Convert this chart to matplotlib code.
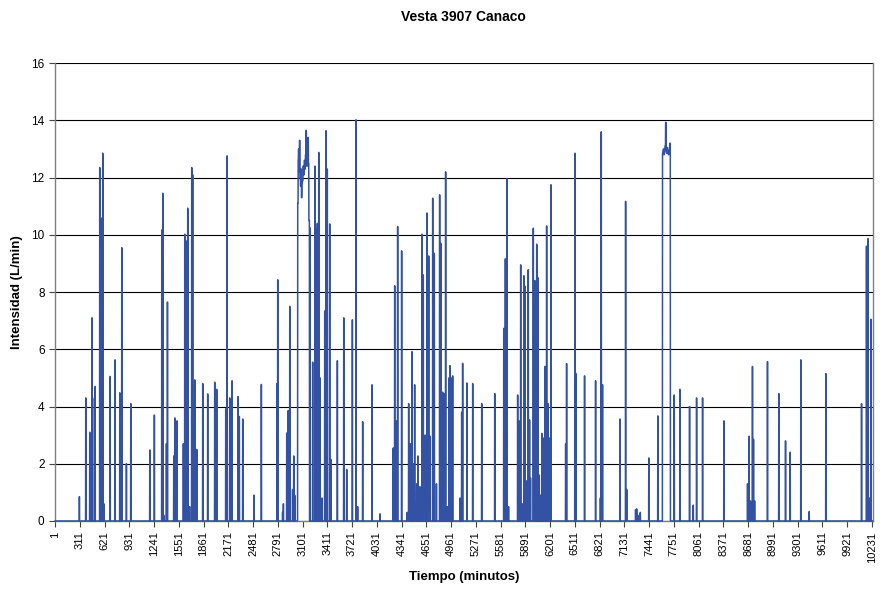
import numpy as np
import matplotlib
matplotlib.use('Agg')
import matplotlib.pyplot as plt

plt.rcParams['font.family'] = ['Liberation Sans', 'DejaVu Sans']

# minutes in the record
n_minutes = 10240

# isolated flow events: minute and intensity (L/min)
spike_minute = [305, 385, 435, 464, 470, 502, 560, 572, 598, 612, 690, 752, 811, 836, 894, 949,
                1187, 1244, 1337, 1350, 1362, 1395, 1408, 1487, 1500, 1520, 1528, 1607, 1625, 1637,
                1662, 1685, 1712, 1724, 1750, 1775, 1850, 1912, 2000, 2025, 2138, 2155, 2188, 2217,
                2292, 2308, 2351, 2493, 2584, 2780, 2789, 2850, 2860, 2902, 2920, 2940, 2975, 2990,
                3002, 3194, 3227, 3256, 3270, 3285, 3303, 3320, 3345, 3378, 3394, 3410, 3440, 3455,
                3536, 3616, 3653, 3724, 3770, 3790, 3853, 3970, 4070, 4236, 4254, 4270, 4291, 4341,
                4410, 4429, 4450, 4471, 4488, 4504, 4530, 4545, 4570, 4596, 4612, 4635, 4659, 4680,
                4697, 4730, 4750, 4777, 4817, 4833, 4855, 4875, 4892, 4912, 4934, 4946, 4960, 4980,
                5072, 5093, 5105, 5159, 5231, 5344, 5507, 5620, 5640, 5660, 5680, 5794, 5810, 5832,
                5850, 5872, 5887, 5905, 5927, 5943, 5955, 5990, 6010, 6033, 6050, 6065, 6080, 6098,
                6113, 6137, 6157, 6175, 6190, 6211, 6395, 6407, 6511, 6525, 6632, 6770, 6830, 6841,
                6857, 7075, 7146, 7160, 7271, 7285, 7300, 7330, 7437, 7550, 7755, 7826, 7947, 7993,
                8035, 8110, 8377, 8673, 8693, 8710, 8735, 8748, 8762, 8923, 9065, 9149, 9207, 9341,
                9445, 9654, 10101, 10163, 10183, 10200, 10218]
spike_value = [0.85, 4.3, 3.1, 7.1, 4.3, 4.7, 12.35, 10.6, 12.85, 0.6, 5.05, 5.63, 4.48, 9.55, 2.0, 4.1,
               2.48, 3.7, 10.17, 11.45, 0.2, 2.7, 7.65, 2.27, 3.6, 3.4, 3.5, 2.7, 10.02, 9.8,
               10.93, 0.5, 12.35, 12.1, 4.93, 2.5, 4.8, 4.44, 4.85, 4.6, 3.92, 12.76, 4.3, 4.9,
               4.35, 3.65, 3.56, 0.9, 4.77, 4.8, 8.43, 0.3, 0.6, 3.07, 3.86, 7.5, 1.1, 2.27,
               0.9, 10.24, 5.55, 12.4, 10.2, 10.4, 12.88, 5.0, 0.8, 7.34, 13.64, 12.3, 10.38, 2.15,
               5.6, 7.1, 1.8, 7.03, 14.02, 0.5, 3.47, 4.76, 0.25, 2.55, 8.22, 3.5, 10.29, 9.44,
               0.3, 4.1, 2.7, 5.92, 2.0, 4.76, 1.3, 2.27, 1.2, 10.02, 8.6, 3.0, 10.76, 9.26,
               2.96, 11.28, 9.35, 1.3, 11.4, 9.7, 4.5, 4.45, 12.2, 0.5, 5.0, 5.43, 5.0, 5.07,
               0.8, 3.8, 5.51, 4.82, 4.8, 4.1, 4.45, 6.73, 9.16, 11.96, 0.5, 4.4, 3.5, 8.95,
               0.6, 8.57, 8.2, 1.4, 8.78, 3.53, 1.5, 10.23, 8.4, 9.67, 8.5, 1.6, 0.9, 3.06,
               2.9, 5.4, 10.31, 4.1, 2.9, 11.75, 2.7, 5.5, 12.85, 5.15, 5.07, 4.9, 0.8, 13.6,
               4.76, 3.56, 11.17, 1.1, 0.4, 0.42, 0.2, 0.3, 2.2, 3.67, 4.4, 4.6, 4.0, 0.55,
               4.3, 4.3, 3.5, 1.3, 2.96, 0.7, 5.4, 2.85, 0.7, 5.57, 4.45, 2.8, 2.4, 5.63,
               0.33, 5.15, 4.1, 9.6, 9.87, 0.8, 7.05]

# sustained flow periods: readings held until the next one
plateau1_minute = [3040, 3046, 3050, 3056, 3062, 3068, 3075, 3081, 3087, 3093, 3100, 3107,
                   3115, 3122, 3130, 3137, 3145, 3150, 3155, 3162, 3168, 3174, 3180]
plateau1_value = [11.1, 12.6, 13.0, 12.2, 13.3, 12.0, 11.7, 12.3, 11.3, 11.8, 11.9, 12.4,
                  12.1, 12.6, 12.3, 12.8, 13.65, 12.6, 12.4, 13.0, 13.4, 12.5, 10.5]
plateau2_minute = [7609, 7615, 7620, 7627, 7633, 7640, 7648, 7654, 7660, 7667, 7675, 7683, 7690, 7700]
plateau2_value = [12.86, 12.95, 13.0, 12.8, 12.9, 13.1, 13.93, 13.0, 12.85, 13.05, 12.95, 12.8, 12.85, 13.2]

minutes = np.arange(1, n_minutes + 1)
flow = np.zeros(n_minutes)
for m, v in zip(spike_minute, spike_value):
    flow[m - 1:m + 2] = v
for pm, pv in [(plateau1_minute, plateau1_value), (plateau2_minute, plateau2_value)]:
    for i in range(len(pm)):
        end = pm[i + 1] if i + 1 < len(pm) else pm[i] + 8
        flow[pm[i] - 1:end - 1] = pv[i]

tick_minutes = list(range(1, n_minutes, 310))

fig = plt.figure(figsize=(8.8, 5.9), dpi=100)
ax = fig.add_axes([0.0625, 0.117, 0.929, 0.776])

ax.plot(minutes, flow, color='#3452A3', lw=1.1, clip_on=False, zorder=3)

ax.set_xlim(1, n_minutes)
ax.set_ylim(0, 16)
ax.set_yticks(range(0, 17, 2))
ax.set_xticks(tick_minutes)
ax.set_xticklabels([str(t) for t in tick_minutes], rotation=90)
ax.tick_params(axis='both', length=4, width=0.8, color='#444444', direction='out')
ax.tick_params(axis='x', labelsize=8)
ax.tick_params(axis='y', labelsize=8.5)
ax.yaxis.grid(True, color='black', lw=0.8)
ax.set_axisbelow(True)

for side in ['left', 'bottom', 'right']:
    ax.spines[side].set_color('#808080')
    ax.spines[side].set_linewidth(1.0)
ax.spines['top'].set_visible(False)

ax.set_xlabel('Tiempo (minutos)', fontsize=9.5, fontweight='bold', labelpad=6)
ax.set_ylabel('Intensidad (L/min)', fontsize=9.5, fontweight='bold', labelpad=6)
# title centred over the plot area
fig.text(0.526, 0.972, 'Vesta 3907 Canaco', fontsize=10, fontweight='bold',
         ha='center', va='center')

fig.savefig('out.png', dpi=100)
